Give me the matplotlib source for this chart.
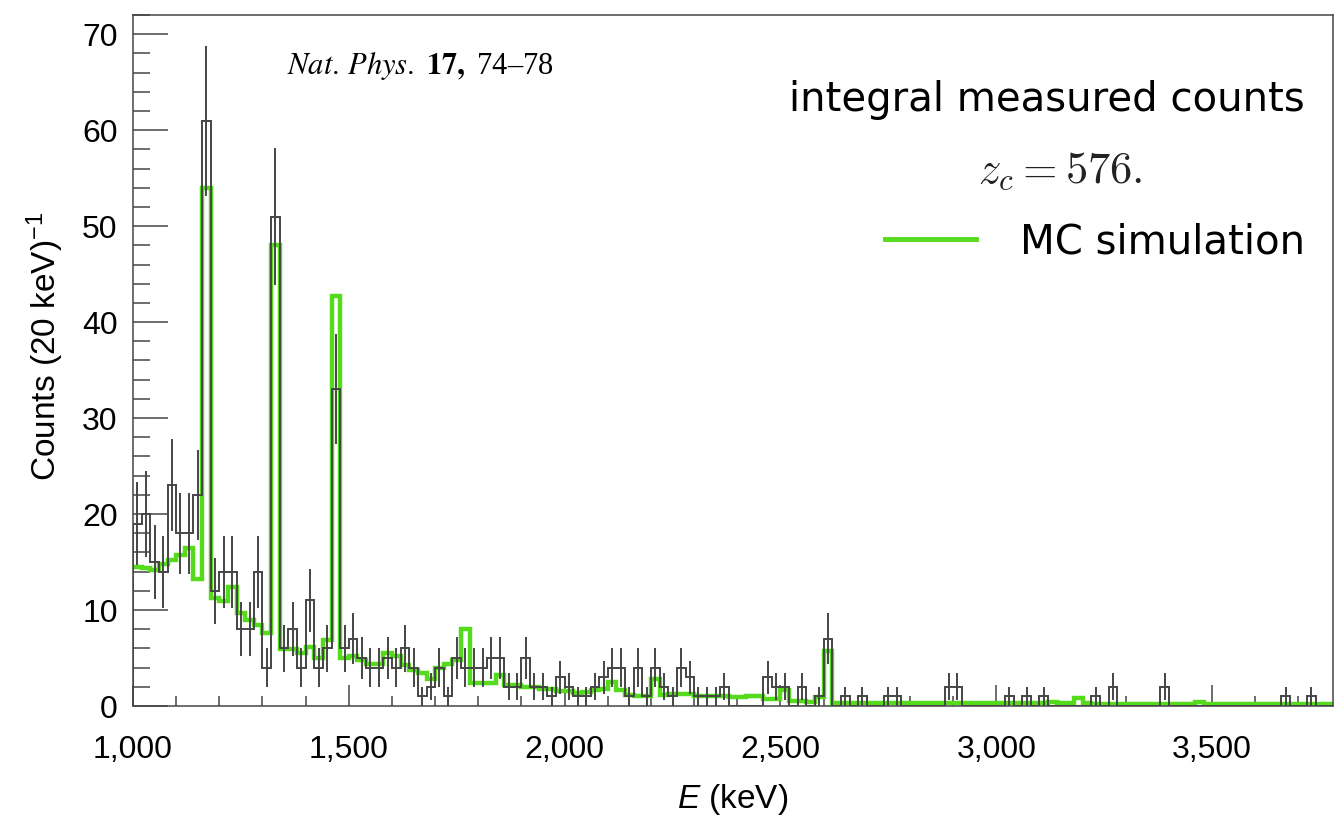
import numpy as np
import matplotlib
matplotlib.use('Agg')
import matplotlib.pyplot as plt
from matplotlib.lines import Line2D
from matplotlib.ticker import MultipleLocator, FuncFormatter

# Energy binning (20 keV bins from 1000 keV)
e_start = 1000
e_stop = 3780
bin_width = 20

# Measured counts per 20 keV bin (1000 ... 3780 keV)
measured_low = [19, 20, 15, 14, 23, 18, 18, 22, 61, 12,
                14, 14, 8, 8, 14, 4, 51, 6, 8, 4,
                11, 4, 6, 33, 6, 7, 5, 4, 4, 5,
                4, 6, 4, 1, 2, 4, 1, 5, 4, 4,
                4, 5, 5, 2, 2, 5, 2, 2, 1, 3,
                2, 1, 1, 2, 3, 4, 4, 1, 4, 1,
                4, 2, 1, 4, 3, 1, 1, 1, 2, 0,
                0, 0, 0, 3, 2, 2, 0, 2, 0, 1,
                7]
measured_high = [0, 1, 0, 1, 0, 0, 1, 1, 0, 0,
                 0, 0, 0, 2, 2, 0, 0, 0, 0, 0,
                 1, 0, 1, 0, 1, 0, 0, 0, 0, 0,
                 1, 0, 2, 0, 0, 0, 0, 0, 2, 0,
                 0, 0, 0, 0, 0, 0, 0, 0, 0, 0,
                 0, 0, 1, 0, 0, 1, 0, 0]

# MC simulation per 20 keV bin
mc_low = [14.5, 14.4, 14.2, 14.8, 15.2, 15.7, 16.5, 13.2, 54.0, 11.3,
          10.9, 12.4, 9.7, 9.0, 8.4, 7.6, 48.0, 5.9, 5.9, 5.5,
          6.1, 5.0, 6.9, 42.7, 5.0, 5.2, 4.8, 4.4, 4.4, 5.5,
          5.2, 4.3, 3.8, 3.4, 2.8, 4.0, 4.4, 4.8, 8.0, 2.4,
          2.4, 2.4, 3.2, 2.2, 2.2, 2.0, 2.0, 1.8, 1.8, 1.6,
          1.6, 1.4, 1.5, 1.7, 1.8, 2.5, 1.7, 1.1, 1.0, 1.0,
          2.8, 1.1, 1.3, 1.3, 1.2, 1.0, 1.0, 1.0, 1.0, 0.9,
          0.9, 1.0, 1.0, 0.7, 0.7, 1.7, 0.5, 0.5, 0.45, 0.9,
          5.7]
mc_high = [0.35, 0.35, 0.35, 0.35, 0.35, 0.3, 0.3, 0.3, 0.3, 0.3,
           0.3, 0.3, 0.3, 0.3, 0.3, 0.3, 0.3, 0.3, 0.3, 0.3,
           0.3, 0.3, 0.3, 0.3, 0.3, 0.45, 0.3, 0.3, 0.8, 0.3,
           0.25, 0.25, 0.25, 0.25, 0.25, 0.25, 0.25, 0.25, 0.25, 0.25,
           0.25, 0.25, 0.45, 0.25, 0.25, 0.25, 0.25, 0.25, 0.25, 0.25,
           0.2, 0.2, 0.2, 0.2, 0.2, 0.2, 0.2, 0.2]

x_ticks = [1000, 1500, 2000, 2500, 3000, 3500]
y_ticks = [0, 10, 20, 30, 40, 50, 60, 70]

measured = np.array(measured_low + measured_high, dtype=float)
mc = np.array(mc_low + mc_high)
edges = np.arange(e_start, e_stop + 1, bin_width)
centers = 0.5 * (edges[:-1] + edges[1:])

plt.rcParams['mathtext.fontset'] = 'custom'
plt.rcParams['mathtext.rm'] = 'Liberation Sans'
plt.rcParams['mathtext.it'] = 'Liberation Sans:italic'
plt.rcParams['mathtext.bf'] = 'Liberation Sans:bold'

fig = plt.figure(figsize=(13.4, 8.3), dpi=100)
ax = fig.add_axes([133 / 1340, 1 - 706 / 830, 1200 / 1340, 691 / 830])

grey = '#454545'
green = '#55da1c'

# MC simulation
ax.stairs(mc, edges, color=green, lw=3.2, baseline=None, zorder=2)

# measured spectrum: outline + error bars
ax.stairs(measured, edges, color=grey, lw=1.4, baseline=0, zorder=3)
nz = measured > 0
ax.errorbar(centers[nz], measured[nz], yerr=np.sqrt(measured[nz]), fmt='none',
            ecolor=grey, elinewidth=1.4, capsize=0, zorder=3)

ax.set_xlim(e_start, e_stop)
ax.set_ylim(0, 72)

ax.set_xticks(x_ticks)
ax.set_yticks(y_ticks)
ax.xaxis.set_minor_locator(MultipleLocator(100))
ax.yaxis.set_minor_locator(MultipleLocator(2))
ax.xaxis.set_major_formatter(FuncFormatter(lambda v, p: f'{int(v):,}'))

ax.tick_params(axis='x', which='major', direction='in', length=15, width=1.1,
               color=grey, pad=21, labelsize=23)
ax.tick_params(axis='x', which='minor', direction='in', length=7.5, width=1.1, color=grey)
ax.tick_params(axis='y', which='major', direction='in', length=25, width=1.1,
               color=grey, pad=11, labelsize=23)
ax.tick_params(axis='y', which='minor', direction='in', length=12.5, width=1.1, color=grey)
for lab in ax.get_xticklabels() + ax.get_yticklabels():
    lab.set_family('Liberation Sans')

for sp in ax.spines.values():
    sp.set_color(grey)
    sp.set_linewidth(1.1)

ax.set_ylabel(r'Counts (20 keV)$^{-1}$', fontsize=24, family='Liberation Sans',
              va='center')
ax.yaxis.set_label_coords(-0.073, 0.52)
ax.set_xlabel(r'$E$ (keV)', fontsize=24, family='Liberation Sans', va='center')
ax.xaxis.set_label_coords(0.5, -0.136)

# annotations
fig.text(287 / 1340, 1 - 74 / 830, r'$\mathit{Nat.\,Phys.}$ $\mathbf{17,}$ 74–78',
         fontsize=22, family='Liberation Serif', math_fontfamily='stix',
         va='baseline', ha='left')
fig.text(1305 / 1340, 1 - 100 / 830, 'integral measured counts', fontsize=29,
         family='DejaVu Sans', ha='right', va='center')
fig.text(1060 / 1340, 1 - 170 / 830, r'$z_c = 576.$', fontsize=32,
         math_fontfamily='cm', ha='center', va='center', color='#222222')

handle = Line2D([], [], color=green, lw=3.5)
leg = fig.legend([handle], ['MC simulation'], loc='center right',
                 bbox_to_anchor=(1305 / 1340, 1 - 242 / 830),
                 bbox_transform=fig.transFigure, frameon=False,
                 prop={'family': 'DejaVu Sans', 'size': 29},
                 handlelength=2.25, handletextpad=1.1, borderpad=0, borderaxespad=0)

fig.savefig('out.png', dpi=100)
